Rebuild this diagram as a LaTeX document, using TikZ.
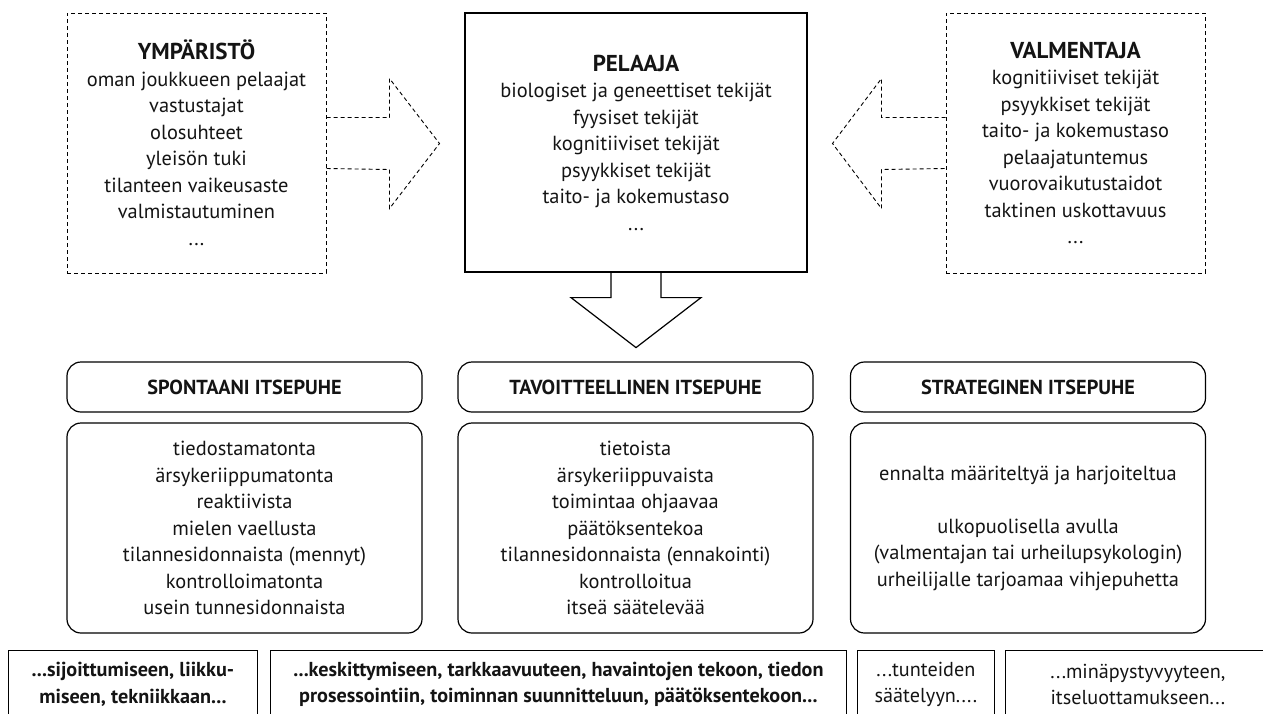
\documentclass[tikz,border=0pt]{standalone}
\usepackage{fontspec}
\setmainfont{PT Sans}
\begin{document}
\begin{tikzpicture}[x=1pt,y=-1pt,line width=1.2pt,
    every node/.style={align=center,inner sep=0pt,text=black!92,font=\fontsize{20.4}{26.5}\selectfont},
    factor/.style={draw,dashed,dash pattern=on 4pt off 3pt,line width=1pt,minimum width=259pt,minimum height=260pt},
    player/.style={draw,minimum width=342pt,minimum height=259pt},
    dasharrow/.style={dashed,dash pattern=on 4pt off 3pt,line width=0.9pt},
    head/.style={draw,rounded corners=14pt,minimum width=355pt,minimum height=50pt,font=\fontsize{20.3}{24}\selectfont\bfseries},
    kind/.style={draw,rounded corners=14pt,minimum width=355pt,minimum height=210pt},
    effect/.style={draw,line width=0.8pt,anchor=north west,minimum height=68pt,font=\fontsize{20.2}{26.5}\selectfont}]
    \useasboundingbox (0,0) rectangle (1263,713);

    % tekijat
    \node[factor] (ymparisto) at (196.5,143) {{\bfseries\fontsize{23}{28}\selectfont YMPÄRISTÖ}\\
        oman joukkueen pelaajat\\vastustajat\\olosuhteet\\yleisön tuki\\tilanteen vaikeusaste\\valmistautuminen\\...};
    \node[player] (pelaaja) at (636,142.5) {{\bfseries\fontsize{23}{28}\selectfont PELAAJA}\\
        biologiset ja geneettiset tekijät\\fyysiset tekijät\\kognitiiviset tekijät\\psyykkiset tekijät\\taito- ja kokemustaso\\...};
    \node[factor] (valmentaja) at (1075.5,143) {{\bfseries\fontsize{23}{28}\selectfont VALMENTAJA}\\
        kognitiiviset tekijät\\psyykkiset tekijät\\taito- ja kokemustaso\\pelaajatuntemus\\vuorovaikutustaidot\\taktinen uskottavuus\\...};

    % nuolet
    \draw[dasharrow] ([yshift=25.5pt]ymparisto.east) -- ++(63,0) -- ++(0,-39) -- ++(50,65) -- ++(-50,65) -- ++(0,-39) -- ([yshift=-25.5pt]ymparisto.east);
    \draw[dasharrow] ([yshift=25.5pt]valmentaja.west) -- ++(-64,0) -- ++(0,-39) -- ++(-49,65) -- ++(49,65) -- ++(0,-39) -- ([yshift=-25.5pt]valmentaja.west);
    \draw ([xshift=-25pt]pelaaja.south) -- ++(0,25) -- ++(-40,0) -- ++(65,50) -- ++(65,-50) -- ++(-40,0) -- ([xshift=25pt]pelaaja.south);

    % itsepuhe
    \node[head] (spontaani) at (244.5,387) {SPONTAANI ITSEPUHE};
    \node[head] (tavoite) at (635.5,387) {TAVOITTEELLINEN ITSEPUHE};
    \node[head] (strateginen) at (1028,387) {STRATEGINEN ITSEPUHE};

    \node[kind] (spontaanipiirteet) at (244.5,528) {tiedostamatonta\\ärsykeriippumatonta\\reaktiivista\\mielen vaellusta\\tilannesidonnaista (mennyt)\\kontrolloimatonta\\usein tunnesidonnaista};
    \node[kind] (tavoitepiirteet) at (635.5,528) {tietoista\\ärsykeriippuvaista\\toimintaa ohjaavaa\\päätöksentekoa\\tilannesidonnaista (ennakointi)\\kontrolloitua\\itseä säätelevää};
    \node[kind] (strateginenpiirteet) at (1028,528) {ennalta määriteltyä ja harjoiteltua\\ \\ulkopuolisella avulla\\(valmentajan tai urheilupsykologin)\\urheilijalle tarjoamaa vihjepuhetta};

    % vaikutukset
    \node[effect,minimum width=249pt,font=\fontsize{20.2}{26.5}\selectfont\bfseries] (liike) at (8,650) {...sijoittumiseen, liikku-\\miseen, tekniikkaan...};
    \node[effect,minimum width=576pt,font=\fontsize{20.2}{26.5}\selectfont\bfseries] (kognitio) at (270,650) {...keskittymiseen, tarkkaavuuteen, havaintojen tekoon, tiedon\\prosessointiin, toiminnan suunnitteluun, päätöksentekoon...};
    \node[effect,minimum width=137pt] (tunne) at (857,650) {...tunteiden\\säätelyyn....};
    \node[effect,minimum width=265pt] (usko) at (1005,650) {...minäpystyvyyteen,\\itseluottamukseen...};
\end{tikzpicture}
\end{document}
